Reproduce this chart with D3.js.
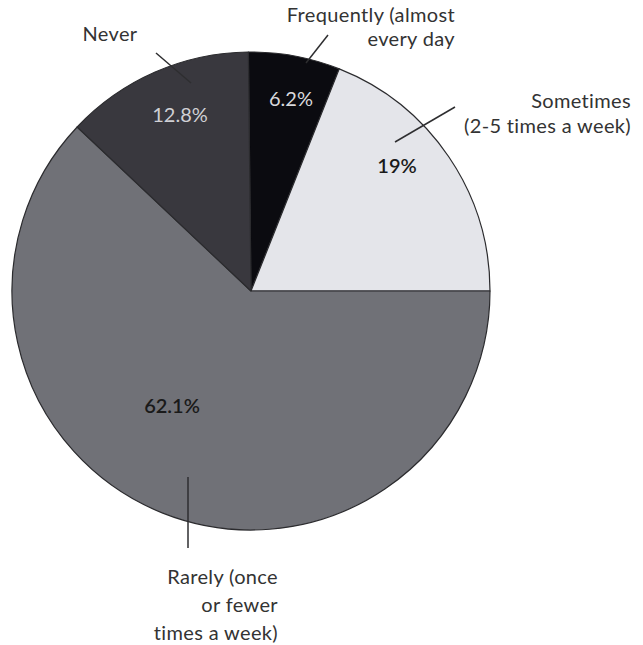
<!DOCTYPE html>
<html>
<head>
<meta charset="utf-8">
<script src="https://cdn.jsdelivr.net/npm/d3@7"></script>
<style>
  html, body { margin: 0; padding: 0; background: #fff; }
  svg text { font-family: Lato, "Open Sans", sans-serif; }
</style>
</head>
<body>
<div id="chart"></div>
<script>
// Frequency of use, clockwise from 12 o'clock
const categories = ['Frequently', 'Sometimes', 'Rarely', 'Never'];
const values = [6.2, 19, 62.1, 12.8];
const valueLabels = ['6.2%', '19%', '62.1%', '12.8%'];
const categoryLabels = [
  ['Frequently (almost', 'every day'],
  ['Sometimes', '(2-5 times a week)'],
  ['Rarely (once', 'or fewer', 'times a week)'],
  ['Never']
];
const fills = ['#0b0b10', '#e4e5ea', '#707177', '#39383e'];
const valueColors = ['#d9d9dc', '#1a1a1a', '#1a1a1a', '#d0d0d4'];

// annotation layout (pixels relative to pie centre)
const layout = {
  Frequently: { text: [204, -269], anchor: 'end', lh: 24, value: [40, -185], line: [[55, -228], [77, -256]] },
  Sometimes:  { text: [380, -183], anchor: 'end', lh: 25, value: [146, -118], line: [[144, -149], [204, -184]] },
  Rarely:     { text: [27, 293], anchor: 'end', lh: 28, value: [-79, 122], line: [[-63, 186], [-63, 257]] },
  Never:      { text: [-141, -250], anchor: 'middle', lh: 22, value: [-71, -169], line: [[-60, -208], [-95, -238]] }
};

const width = 643, height = 645;
const cx = 251, cy = 291, radius = 239;

const svg = d3.select('#chart').append('svg')
  .attr('width', width)
  .attr('height', height);

const g = svg.append('g').attr('transform', `translate(${cx},${cy})`);

const total = d3.sum(values);
// Sometimes ends exactly at 3 o'clock
const start = Math.PI / 2 - 2 * Math.PI * (values[0] + values[1]) / total;

const pie = d3.pie().sort(null).value(d => d.value)
  .startAngle(start).endAngle(start + 2 * Math.PI);
const arc = d3.arc().innerRadius(0).outerRadius(radius);

const data = categories.map((c, i) => ({
  name: c, value: values[i], label: valueLabels[i], lines: categoryLabels[i],
  fill: fills[i], textColor: valueColors[i]
}));

const arcs = pie(data);

g.selectAll('path.slice')
  .data(arcs)
  .enter().append('path')
  .attr('class', 'slice')
  .attr('d', arc)
  .attr('fill', d => d.data.fill)
  .attr('stroke', '#2b2b2e')
  .attr('stroke-width', 1.2)
  .attr('stroke-linejoin', 'round');

// leader lines
g.selectAll('line.leader')
  .data(arcs)
  .enter().append('line')
  .attr('class', 'leader')
  .attr('x1', d => layout[d.data.name].line[0][0])
  .attr('y1', d => layout[d.data.name].line[0][1])
  .attr('x2', d => layout[d.data.name].line[1][0])
  .attr('y2', d => layout[d.data.name].line[1][1])
  .attr('stroke', '#2e2e30')
  .attr('stroke-width', 1.5);

// percentage labels
g.selectAll('text.value')
  .data(arcs)
  .enter().append('text')
  .attr('class', 'value')
  .attr('x', d => layout[d.data.name].value[0])
  .attr('y', d => layout[d.data.name].value[1])
  .attr('text-anchor', 'middle')
  .style('font-size', '20px')
  .style('font-weight', d => d.data.textColor === '#1a1a1a' ? 600 : 400)
  .attr('fill', d => d.data.textColor)
  .text(d => d.data.label);

// category labels
const cat = g.selectAll('text.cat')
  .data(arcs)
  .enter().append('text')
  .attr('class', 'cat')
  .attr('text-anchor', d => layout[d.data.name].anchor)
  .style('font-size', '20px')
  .style('letter-spacing', '0.35px')
  .attr('fill', '#333');

cat.selectAll('tspan')
  .data(d => d.data.lines.map((t, i) => ({ t, i, l: layout[d.data.name] })))
  .enter().append('tspan')
  .attr('x', d => d.l.text[0])
  .attr('y', d => d.l.text[1] + d.i * d.l.lh)
  .text(d => d.t);
</script>
</body>
</html>
